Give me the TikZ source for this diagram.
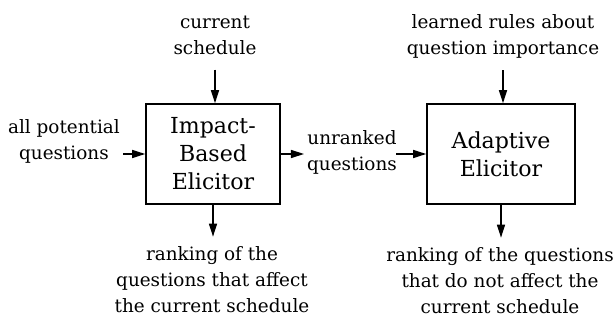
\documentclass[tikz,border=0pt]{standalone}
\usepackage{fontspec}
\setmainfont{DejaVu Serif}
\newfontfamily\boxfont{DejaVu Serif}[Scale=1.2]
\usepackage{tikz}
\usetikzlibrary{arrows.meta, positioning}

\begin{document}
\begin{tikzpicture}[x=1pt, y=-1pt,
    box/.style={draw, line width=1.6pt, align=center, font=\fontsize{18.4pt}{28pt}\boxfont},
    lbl/.style={inner sep=0pt, align=center, font=\fontsize{18.4pt}{26pt}\selectfont},
    flow/.style={line width=1.4pt, -{Triangle[length=13pt, width=8pt]}}]
  % page frame: 616 x 320 pixels, y grows downwards
  \useasboundingbox (0,0) rectangle (616,320);
  \def\ybox{154}

  % the two elicitors
  \node[box, minimum width=134pt, minimum height=100pt] (impact) at (213,\ybox) {Impact-\\Based\\Elicitor};
  \node[box, minimum width=148pt, minimum height=100pt] (adapt) at (501,\ybox) {Adaptive\\Elicitor};

  % inputs above and at the left
  \node[lbl] (sched) at (215,35) {current\\schedule};
  \node[lbl] (rules) at (503,36) {learned rules about\\question importance};
  \node[lbl, anchor=east] (allq) at (120,141) {all potential\\questions};
  \node[lbl] (unranked) at (352,152) {unranked\\questions};

  % outputs below
  \node[lbl] (rankA) at (212,280) {ranking of the\\questions that affect\\the current schedule};
  \node[lbl] (rankB) at (500,281) {ranking of the questions\\that do not affect the\\current schedule};

  % connectors
  \draw[flow, shorten <=15pt] (sched.south) -- (sched.south |- impact.north);
  \draw[flow, shorten <=12pt] (rules.south) -- (rules.south |- adapt.north);
  \draw[flow, shorten <=3pt] (allq.east |- impact.west) -- (impact.west);
  \draw[flow, shorten >=3pt] (impact.east) -- (impact.east -| unranked.west);
  \draw[flow, shorten <=-1pt] (unranked.east |- adapt.west) -- (adapt.west);
  \draw[flow, shorten >=10pt] (impact.south) -- (impact.south |- rankA.north);
  \draw[flow, shorten >=10pt] (adapt.south) -- (adapt.south |- rankB.north);
\end{tikzpicture}
\end{document}
